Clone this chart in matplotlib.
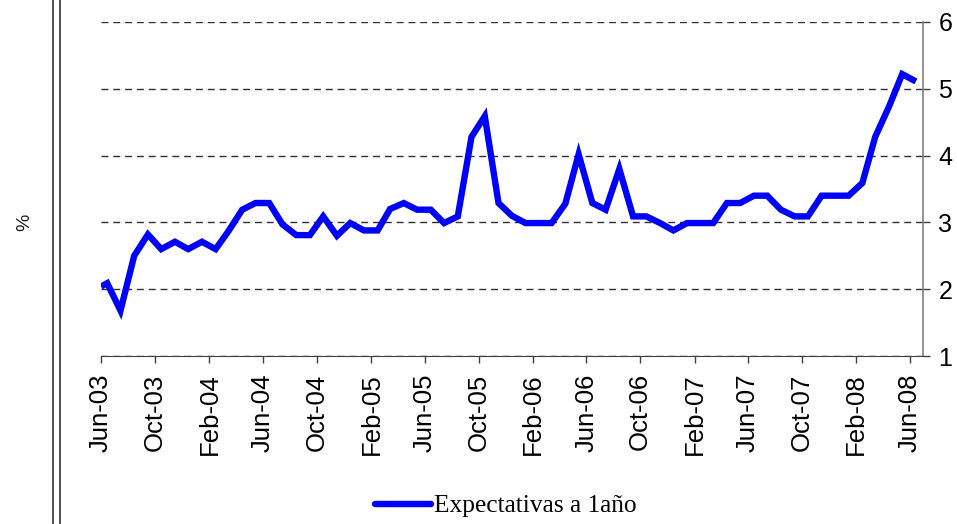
import matplotlib
matplotlib.use("Agg")
import matplotlib.pyplot as plt
import matplotlib.dates as mdates
import pandas as pd
from matplotlib.lines import Line2D

# Data: first observation at start of Jun-03, then mid-month observations Jun-03 .. Jun-08
dates = ["2003-06-01"] + [f"{y}-{m:02d}-15" for y in range(2003, 2009) for m in range(1, 13)
                          if (y, m) >= (2003, 6) and (y, m) <= (2008, 6)]
values = [2.04, 2.09, 1.68, 2.50, 2.82, 2.60, 2.71, 2.60, 2.71, 2.60,
          2.87, 3.19, 3.29, 3.29, 2.97, 2.81, 2.81, 3.09, 2.80, 2.99,
          2.88, 2.88, 3.20, 3.29, 3.19, 3.19, 2.99, 3.09, 4.28, 4.59,
          3.29, 3.10, 2.99, 2.99, 2.99, 3.28, 4.02, 3.29, 3.19, 3.80,
          3.09, 3.09, 2.99, 2.88, 2.99, 2.99, 2.99, 3.29, 3.29, 3.40,
          3.40, 3.19, 3.09, 3.09, 3.40, 3.40, 3.40, 3.59, 4.28, 4.73,
          5.22, 5.11]
series_label = "Expectativas a 1año"
y_ticks = [1, 2, 3, 4, 5, 6]

x = pd.to_datetime(dates)

fig = plt.figure(figsize=(9.57, 5.24), dpi=100)
ax = fig.add_axes([0.10554, 0.32061, 0.85893, 0.63741])

ax.plot(x, values, color="#0000FF", lw=4.6, solid_joinstyle="miter", solid_capstyle="butt", zorder=3)

ax.set_xlim(pd.Timestamp("2003-06-01"), pd.Timestamp("2008-07-01"))
ax.set_ylim(1, 6)
ax.set_yticks(y_ticks)
ax.yaxis.tick_right()
ax.yaxis.set_label_position("right")
ax.grid(axis="y", linestyle=(0, (5, 3.5)), color="#303030", lw=1.0)
ax.set_axisbelow(True)

ax.xaxis.set_major_locator(mdates.MonthLocator(bymonth=[2, 6, 10], bymonthday=1))
ax.xaxis.set_major_formatter(mdates.DateFormatter("%b-%y"))

for lab in ax.get_xticklabels():
    lab.set_rotation(90)

ax.tick_params(axis="x", direction="out", length=5, width=1, color="#404040",
               labelsize=18.5, pad=7.5)
ax.tick_params(axis="y", direction="out", length=5, width=1, color="#404040",
               labelsize=18, pad=6)
for lab in ax.get_xticklabels() + ax.get_yticklabels():
    lab.set_fontfamily("Liberation Sans")

ax.spines["top"].set_visible(False)
ax.spines["left"].set_visible(False)
ax.spines["bottom"].set_color("#404040")
ax.spines["right"].set_color("#808080")
ax.spines["right"].set_linewidth(1.2)

# % label and double vertical rule on the left
fig.text(25 / 957, 1 - 222 / 524, "%", rotation=90, ha="center", va="center",
         fontsize=14, family="Liberation Sans", color="#202020")
for xp in (53, 60):
    fig.add_artist(Line2D([xp / 957, xp / 957], [0, 1], transform=fig.transFigure,
                          color="#202020", lw=1.1))

handle = Line2D([], [], color="#0000FF", lw=4.6, solid_capstyle="round")
fig.legend([handle], [series_label], loc="center", bbox_to_anchor=(506 / 957, 1 - 506 / 524),
           frameon=False, handlelength=2.2, handletextpad=0.1,
           prop={"family": "Liberation Serif", "size": 18.3})

fig.savefig("out.png", dpi=100)
